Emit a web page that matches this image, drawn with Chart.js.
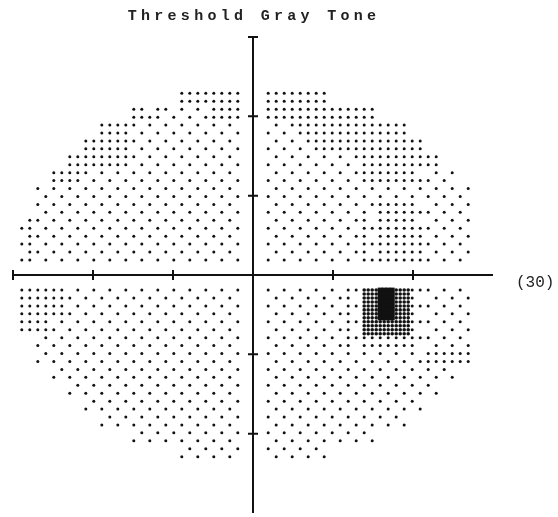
<!DOCTYPE html>
<html>
<head>
<meta charset="utf-8">
<script src="https://cdn.jsdelivr.net/npm/chart.js@4.4.0/dist/chart.umd.min.js"></script>
<style>
    html, body { margin: 0; padding: 0; background: #fff; }
    #wrap { width: 558px; height: 517px; }
</style>
</head>
<body>
<div id="wrap"><canvas id="grayTone"></canvas></div>
<script>
var title = 'Threshold Gray Tone';
var edgeLabel = '(30)';
var xTicks = [-30, -20, -10, 10, 20];
var yTicks = [30, 20, 10, -10, -20];

// gray tone of each 2x2 deg tile
// 'left|right' : the char next to '|' is the tile next to the vertical axis
// 1 sparse, 2 medium, 3 dense, 4 very dense, 5 black (blind spot)
var upperTones = [
    '          3333|3333          ',
    '       3211133|3333333       ',
    '     331111111|113333333     ',
    '    3331111111|1113333333    ',
    '   33331111111|11111133333   ',
    '  331111111111|111111333211  ',
    ' 1111111111111|1111111111111 ',
    ' 1111111111111|1111111332111 ',
    '21111111111111|1111112332111 ',
    '21111111111111|1111112333111 ',
    '21111111111111|1111112333111 '
];
var lowerTones = [
    '33311111111111|1111124542111 ',
    '33311111111111|1111124542111 ',
    '33111111111111|1111124442111 ',
    ' 1111111111111|1111123332111 ',
    ' 1111111111111|1111111111333 ',
    '  111111111111|111111111111  ',
    '   11111111111|11111111111   ',
    '    1111111111|1111111111    ',
    '     111111111|111111111     ',
    '       1111111|1111111       ',
    '          1111|1111          '
];

var FIRST = 1.9; // deg from an axis to the first printed dot

function tonePoints(rows, ySign, out) {
    for (var r = 0; r < rows.length; r++) {
        var band = ySign > 0 ? rows.length - 1 - r : r;
        var halves = rows[r].split('|');
        for (var s = 0; s < 2; s++) {
            var side = s == 0 ? -1 : 1;
            var cells = s == 0 ? halves[0].split('').reverse() : halves[1].split('');
            for (var t = 0; t < cells.length; t++) {
                var level = parseInt(cells[t]) || 0;
                if (!level) continue;
                var n = level >= 4 ? 4 : 2;
                var sub = 2 / n;
                for (var j = 0; j < n; j++) {
                    for (var i = 0; i < n; i++) {
                        var fx = 2 * t + i * sub, fy = 2 * band + j * sub;
                        if (level == 1 && (Math.floor(fx) + Math.floor(fy)) % 2) continue;
                        if (level == 2 && i == 1 && j == 1) continue;
                        var p = { x: side * (FIRST + fx), y: ySign * (FIRST + fy) };
                        if (level == 5) out.solid.push(p);
                        else if (level == 4) out.dark.push(p);
                        else out.dots.push(p);
                    }
                }
            }
        }
    }
}

var marks = { dots: [], dark: [], solid: [] };
tonePoints(upperTones, 1, marks);
tonePoints(lowerTones, -1, marks);

var frame = {
    id: 'frame',
    afterDatasetsDraw: function (chart) {
        var ctx = chart.ctx, xs = chart.scales.x, ys = chart.scales.y;
        var x0 = xs.getPixelForValue(0), y0 = ys.getPixelForValue(0);
        ctx.save();
        ctx.strokeStyle = '#111';
        ctx.lineWidth = 2;
        ctx.beginPath();
        ctx.moveTo(xs.getPixelForValue(-30), y0);
        ctx.lineTo(xs.getPixelForValue(30), y0);
        ctx.moveTo(x0, ys.getPixelForValue(30));
        ctx.lineTo(x0, ys.getPixelForValue(-30));
        xTicks.forEach(function (v) {
            var px = xs.getPixelForValue(v);
            ctx.moveTo(px, y0 - 5);
            ctx.lineTo(px, y0 + 5);
        });
        yTicks.forEach(function (v) {
            var py = ys.getPixelForValue(v);
            ctx.moveTo(x0 - 5, py);
            ctx.lineTo(x0 + 5, py);
        });
        ctx.stroke();

        ctx.fillStyle = '#222';
        ctx.font = 'bold 15px "Liberation Mono", monospace';
        ctx.textBaseline = 'alphabetic';
        ctx.textAlign = 'center';
        ctx.letterSpacing = '4.3px';
        ctx.fillText(title, x0 + 1, 20);
        ctx.letterSpacing = '0px';
        ctx.textAlign = 'left';
        ctx.font = '16px "Liberation Mono", monospace';
        ctx.fillText(edgeLabel, xs.getPixelForValue(30) + 23, y0 + 12);
        ctx.restore();
    }
};

var chart = new Chart(document.getElementById('grayTone').getContext('2d'), {
    type: 'scatter',
    data: {
        datasets: [{
            data: marks.dots,
            pointRadius: 1.5,
            pointBackgroundColor: '#111',
            pointBorderWidth: 0
        }, {
            data: marks.dark,
            pointRadius: 1.8,
            pointBackgroundColor: '#111',
            pointBorderWidth: 0
        }, {
            data: marks.solid,
            pointStyle: 'rect',
            pointRadius: 3.5,
            pointBackgroundColor: '#111',
            pointBorderWidth: 0
        }]
    },
    options: {
        responsive: true,
        maintainAspectRatio: false,
        animation: false,
        layout: { padding: { left: 13, right: 65, top: 37, bottom: 0 } },
        scales: {
            x: { type: 'linear', min: -30, max: 30, display: false },
            y: { type: 'linear', min: -30, max: 30, display: false }
        },
        plugins: {
            legend: { display: false },
            tooltip: { enabled: false }
        },
        events: []
    },
    plugins: [frame]
});
</script>
</body>
</html>
